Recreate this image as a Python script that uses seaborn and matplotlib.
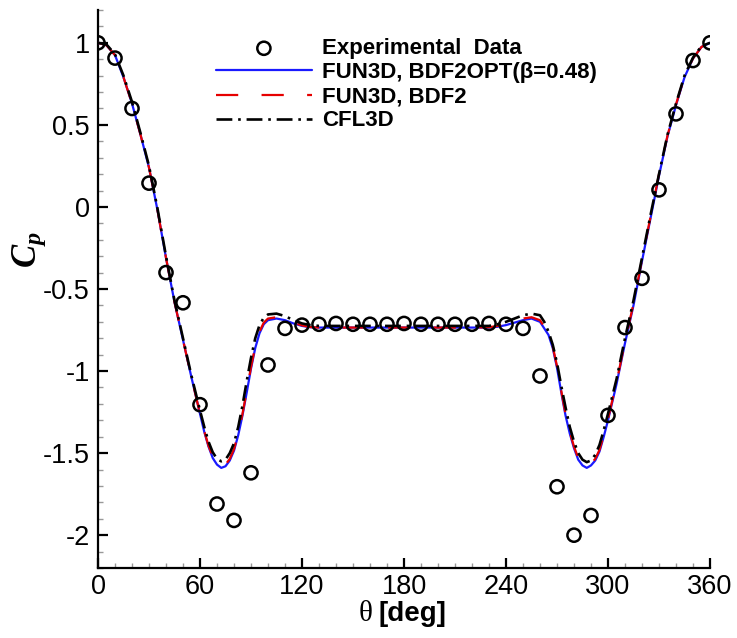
import numpy as np
import pandas as pd
import matplotlib
matplotlib.use("Agg")
import matplotlib.pyplot as plt
import seaborn as sns
from matplotlib.ticker import MultipleLocator

# ---------------- data ----------------
theta_exp = [0, 10, 20, 30, 40, 50, 60, 70, 80, 90, 100, 110, 120, 130, 140, 150,
             160, 170, 180, 190, 200, 210, 220, 230, 240, 250, 260, 270, 280, 290,
             300, 310, 320, 330, 340, 350, 360]
cp_exp = [1.0, 0.907, 0.60, 0.145, -0.40, -0.584, -1.205, -1.81, -1.91, -1.62,
          -0.963, -0.74, -0.72, -0.715, -0.71, -0.715, -0.715, -0.715, -0.71, -0.715,
          -0.715, -0.715, -0.715, -0.71, -0.715, -0.74, -1.03, -1.705, -2.0, -1.88,
          -1.27, -0.735, -0.435, 0.104, 0.567, 0.892, 1.0]

theta_cfd = [0, 5, 10, 15, 20, 25, 30, 35, 40, 45, 50, 55, 60, 62.5, 65, 67.5, 70,
             72.5, 75, 77.5, 80, 82.5, 85, 87.5, 90, 92.5, 95, 97.5, 100, 105, 110,
             115, 120, 125, 130, 140, 150, 160, 170, 180, 190, 200, 210, 220, 230,
             235, 240, 245, 250, 255, 260, 262.5, 265, 267.5, 270, 272.5, 275, 277.5,
             280, 282.5, 285, 287.5, 290, 292.5, 295, 297.5, 300, 305, 310, 315, 320,
             325, 330, 335, 340, 345, 350, 355, 360]

cp_bdf2opt = [1.0, 0.985, 0.925, 0.79, 0.63, 0.44, 0.24, -0.02, -0.31, -0.58, -0.81,
              -1.04, -1.26, -1.37, -1.46, -1.53, -1.57, -1.59, -1.58, -1.545, -1.485,
              -1.39, -1.27, -1.13, -0.985, -0.86, -0.77, -0.715, -0.69, -0.68, -0.69,
              -0.71, -0.725, -0.733, -0.735, -0.735, -0.735, -0.735, -0.735, -0.735,
              -0.735, -0.735, -0.735, -0.735, -0.735, -0.73, -0.72, -0.705, -0.69,
              -0.68, -0.70, -0.74, -0.78, -0.86, -0.98, -1.13, -1.27, -1.38, -1.47,
              -1.54, -1.575, -1.59, -1.575, -1.545, -1.49, -1.40, -1.30, -1.08, -0.83,
              -0.60, -0.33, -0.07, 0.19, 0.43, 0.62, 0.79, 0.905, 0.975, 1.0]

cp_bdf2 = [1.0, 0.985, 0.925, 0.79, 0.63, 0.44, 0.24, -0.02, -0.31, -0.58, -0.81,
           -1.04, -1.26, -1.365, -1.455, -1.52, -1.56, -1.58, -1.57, -1.535, -1.475,
           -1.38, -1.26, -1.12, -0.975, -0.85, -0.76, -0.705, -0.68, -0.672, -0.682,
           -0.705, -0.722, -0.732, -0.735, -0.735, -0.735, -0.735, -0.735, -0.735,
           -0.735, -0.735, -0.735, -0.735, -0.733, -0.725, -0.712, -0.695, -0.68,
           -0.672, -0.69, -0.73, -0.77, -0.85, -0.97, -1.12, -1.26, -1.37, -1.46,
           -1.53, -1.565, -1.58, -1.565, -1.535, -1.48, -1.39, -1.29, -1.07, -0.82,
           -0.59, -0.32, -0.06, 0.20, 0.435, 0.625, 0.795, 0.905, 0.975, 1.0]

cp_cfl3d = [1.0, 0.99, 0.93, 0.80, 0.64, 0.45, 0.25, -0.01, -0.30, -0.57, -0.80,
            -1.03, -1.24, -1.34, -1.43, -1.495, -1.535, -1.55, -1.54, -1.50, -1.44,
            -1.34, -1.21, -1.06, -0.92, -0.80, -0.72, -0.675, -0.655, -0.65, -0.665,
            -0.69, -0.71, -0.72, -0.725, -0.725, -0.725, -0.725, -0.725, -0.725,
            -0.725, -0.725, -0.725, -0.725, -0.725, -0.715, -0.70, -0.68, -0.66,
            -0.65, -0.66, -0.70, -0.76, -0.84, -0.95, -1.09, -1.22, -1.34, -1.43,
            -1.50, -1.54, -1.555, -1.545, -1.51, -1.45, -1.36, -1.26, -1.05, -0.80,
            -0.57, -0.31, -0.05, 0.20, 0.44, 0.63, 0.80, 0.91, 0.98, 1.0]

labels = ["Experimental  Data", "FUN3D, BDF2OPT(\u03b2=0.48)", "FUN3D, BDF2", "CFL3D"]
x_ticks = [0, 60, 120, 180, 240, 300, 360]
y_ticks = [-2, -1.5, -1, -0.5, 0, 0.5, 1]
y_tick_labels = ["-2", "-1.5", "-1", "-0.5", "0", "0.5", "1"]

# ---------------- style ----------------
sns.set_theme(style="ticks")
plt.rcParams["font.family"] = ["Liberation Sans", "DejaVu Sans"]
plt.rcParams["axes.unicode_minus"] = False
plt.rcParams["text.color"] = "black"
plt.rcParams["axes.labelcolor"] = "black"
plt.rcParams["legend.labelcolor"] = "black"
plt.rcParams["mathtext.fontset"] = "custom"
plt.rcParams["mathtext.it"] = "Liberation Serif:bold:italic"
plt.rcParams["mathtext.rm"] = "Liberation Serif:bold"

W, H = 737, 638
fig = plt.figure(figsize=(W / 100, H / 100), dpi=100)
ax = fig.add_axes([98 / W, 1 - 568 / H, (710 - 98) / W, (568 - 10) / H])

df_opt = pd.DataFrame({"theta": theta_cfd, "cp": cp_bdf2opt})
df_bdf2 = pd.DataFrame({"theta": theta_cfd, "cp": cp_bdf2})
df_cfl = pd.DataFrame({"theta": theta_cfd, "cp": cp_cfl3d})
df_exp = pd.DataFrame({"theta": theta_exp, "cp": cp_exp})

sns.lineplot(data=df_opt, x="theta", y="cp", ax=ax, sort=False, estimator=None,
             color="#1a1aff", linewidth=1.6, label=labels[1], zorder=3)
sns.lineplot(data=df_bdf2, x="theta", y="cp", ax=ax, sort=False, estimator=None,
             color="#e60000", linewidth=1.6, linestyle=(0, (10, 10.5)),
             label=labels[2], zorder=4)
sns.lineplot(data=df_cfl, x="theta", y="cp", ax=ax, sort=False, estimator=None,
             color="black", linewidth=1.9, linestyle=(0, (6, 2.2, 1, 2.2)),
             label=labels[3], zorder=5)
sns.scatterplot(data=df_exp, x="theta", y="cp", ax=ax, marker="o", s=90,
                facecolor="none", edgecolor="black", linewidth=1.8,
                label=labels[0], zorder=6)

ax.set_xlim(0, 360)
ax.set_ylim(-2.2, 1.2)
ax.set_xticks(x_ticks)
ax.set_xticklabels([str(t) for t in x_ticks])
ax.set_yticks(y_ticks)
ax.set_yticklabels(y_tick_labels)
ax.xaxis.set_minor_locator(MultipleLocator(10))
ax.yaxis.set_minor_locator(MultipleLocator(0.1))

for s in ["top", "right"]:
    ax.spines[s].set_visible(False)
for s in ["left", "bottom"]:
    ax.spines[s].set_linewidth(1.6)
    ax.spines[s].set_color("black")

ax.tick_params(which="major", direction="in", length=7, width=1.6, color="black",
               labelsize=19.5, labelcolor="black")
ax.tick_params(axis="x", which="major", pad=4)
ax.tick_params(axis="y", which="major", pad=6)
ax.tick_params(which="minor", direction="in", length=3.5, width=1.0, color="#999999")

ax.set_xlabel("")
ax.set_ylabel(r"$C_p$", fontsize=25, rotation=90, color="black")
ax.yaxis.set_label_coords(-0.082, 0.57)

# x label: theta regular + [deg] bold
fig.text(366 / W, 1 - 614 / H, "\u03b8", fontsize=21, color="black",
         family=["Liberation Serif", "DejaVu Serif"], ha="center", va="center")
fig.text(378 / W, 1 - 614 / H, "[deg]", fontsize=20, color="black",
         fontweight="bold", ha="left", va="center")

# legend in reference order
handles, labs = ax.get_legend_handles_labels()
order = [labs.index(l) for l in labels]
leg = ax.legend([handles[i] for i in order], [labs[i] for i in order],
                loc="upper left", bbox_to_anchor=(205 / W, 1 - 27 / H),
                bbox_transform=fig.transFigure, frameon=False, borderpad=0,
                handlelength=4.3, handletextpad=0.45, labelspacing=0.14,
                prop={"family": ["Liberation Sans", "DejaVu Sans"], "weight": "bold",
                      "size": 16})
for t in leg.get_texts():
    t.set_color("black")

fig.savefig("out.png", dpi=100)
